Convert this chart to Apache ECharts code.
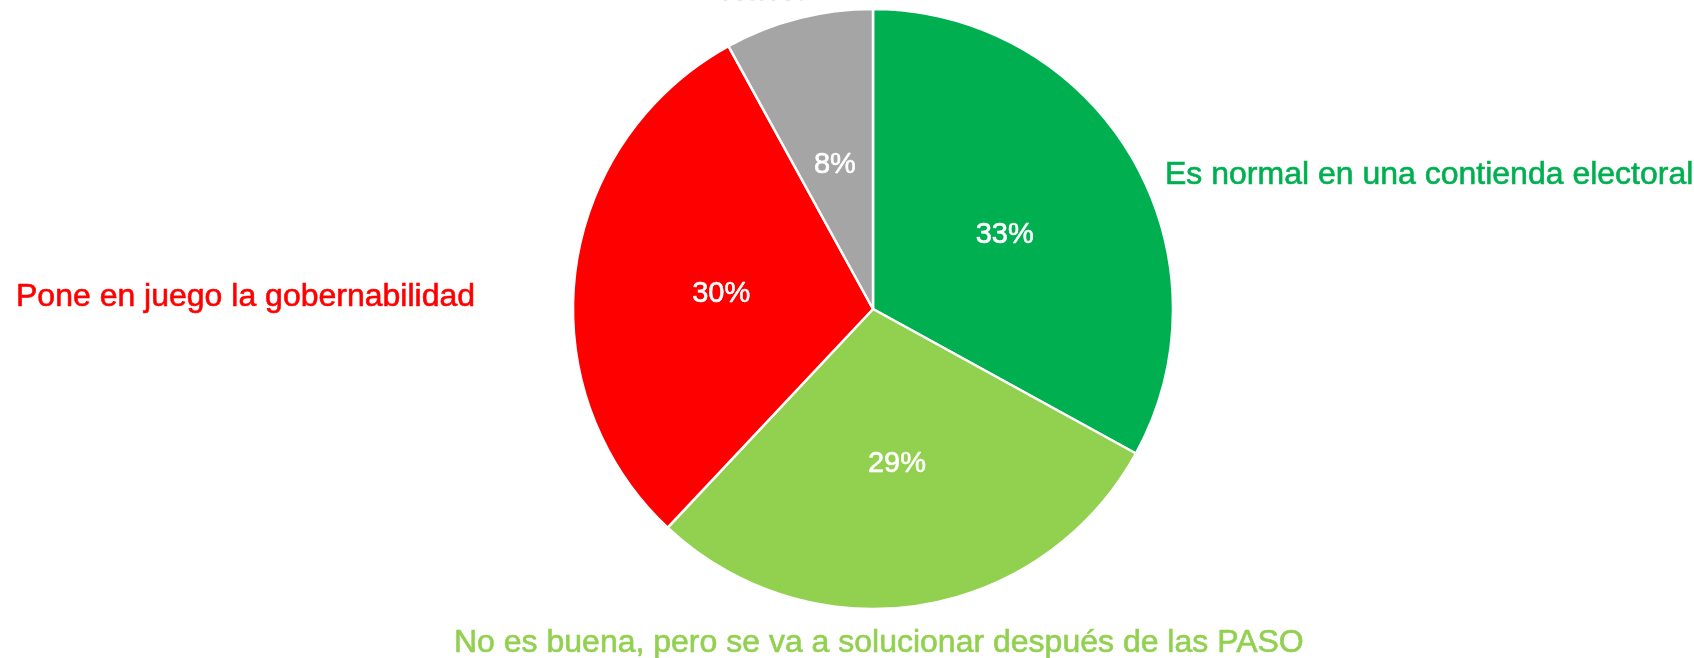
<!DOCTYPE html>
<html>
<head>
<meta charset="utf-8">
<script src="https://cdn.jsdelivr.net/npm/echarts@6/dist/echarts.min.js"></script>
<style>
  html, body { margin: 0; padding: 0; background: #fff; }
  #main { width: 1694px; height: 658px; }
</style>
</head>
<body>
<div id="main"></div>
<script>
// categorias y valores (%)
var categories = ['Es normal en una contienda electoral', 'No es buena, pero se va a solucionar después de las PASO', 'Pone en juego la gobernabilidad', 'Ns/Nc'];
var values = [33, 29, 30, 8];
var colors = ['#00B050', '#92D050', '#FF0000', '#A5A5A5'];

// donde van las etiquetas de fuera (x, y, align)
var labelPos = [
  [1165, 175, 'left'],
  [454, 643, 'left'],
  [16, 297, 'left'],
  [765, -8.5, 'center']
];

var myChart = echarts.init(document.getElementById('main'));

var pieData = categories.map(function (name, i) {
  return { name: name, value: values[i], itemStyle: { color: colors[i] } };
});
var outerData = categories.map(function (name, i) {
  return { name: name, value: values[i], label: { color: colors[i], textBorderColor: colors[i] } };
});

var option = {
  animation: false,
  backgroundColor: '#fff',
  series: [
    {
      type: 'pie',
      center: [873, 309],
      radius: 300,
      startAngle: 90,
      clockwise: true,
      itemStyle: { borderColor: '#fff', borderWidth: 2.5 },
      label: {
        show: true,
        position: 'inside',
        formatter: '{c}%',
        color: '#fff',
        fontSize: 29,
        offset: [0, 4],
        textBorderColor: '#fff',
        textBorderWidth: 0.6,
        fontFamily: 'Liberation Sans, Arial, sans-serif'
      },
      labelLine: { show: false },
      data: pieData
    },
    {
      // solo para las etiquetas de texto
      type: 'pie',
      center: [873, 309],
      radius: 300,
      startAngle: 90,
      clockwise: true,
      silent: true,
      z: 1,
      itemStyle: { color: 'rgba(0,0,0,0)', borderWidth: 0 },
      label: {
        show: true,
        position: 'outside',
        formatter: '{b}',
        fontSize: 32,
        width: 1200,
        overflow: 'none',
        textBorderWidth: 0.6,
        fontFamily: 'Liberation Sans, Arial, sans-serif'
      },
      labelLine: { show: false },
      labelLayout: function (params) {
        var p = labelPos[params.dataIndex];
        return { x: p[0], y: p[1], align: p[2], verticalAlign: 'middle', hideOverlap: false, moveOverlap: null };
      },
      data: outerData
    }
  ]
};
myChart.setOption(option);
</script>
</body>
</html>
